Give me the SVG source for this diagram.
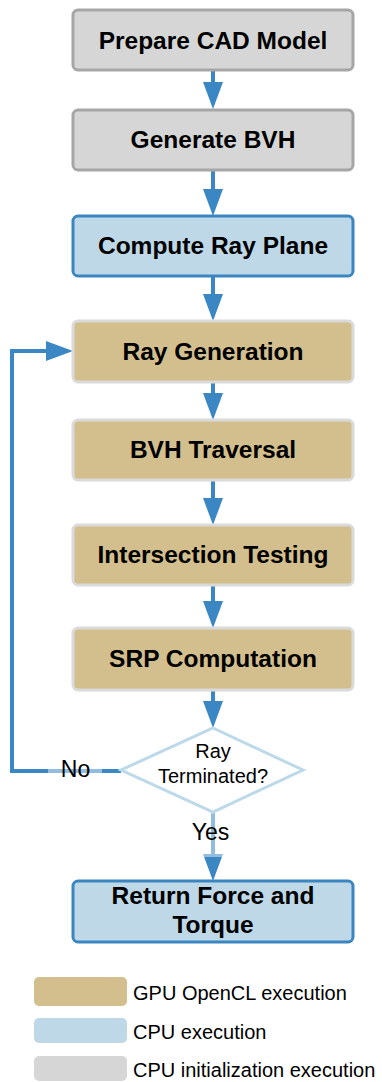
<svg xmlns="http://www.w3.org/2000/svg" width="382" height="1082" viewBox="0 0 382 1082">
<defs>
<marker id="ah" markerUnits="userSpaceOnUse" markerWidth="27" markerHeight="20" refX="0" refY="10" orient="auto" viewBox="0 0 27 20">
<path d="M0,0 L27,10 L0,20 z" fill="#3a87c3"/>
</marker>
<style>
.box{stroke-width:3}
.grey{fill:#d6d6d6;stroke:#a6a6a6}
.blue{fill:#bfd8e7;stroke:#3a86c0}
.tan{fill:#d3bf8e;stroke:#dadada}
.t{font-family:"Liberation Sans",Arial,sans-serif;font-weight:bold;font-size:24.5px;fill:#000;text-anchor:middle}
.r{font-family:"Liberation Sans",Arial,sans-serif;font-size:20px;fill:#000}
.lg{font-family:"Liberation Sans",Arial,sans-serif;font-size:20px;fill:#000}
.c{fill:none;stroke:#3a87c3;stroke-width:4}
</style>
</defs>
<g id="connectors">
<line class="c" x1="213" y1="70" x2="213" y2="82" marker-end="url(#ah)"/>
<line class="c" x1="213" y1="170" x2="213" y2="189" marker-end="url(#ah)"/>
<line class="c" x1="213" y1="276" x2="213" y2="294" marker-end="url(#ah)"/>
<line class="c" x1="213" y1="382" x2="213" y2="393" marker-end="url(#ah)"/>
<line class="c" x1="213" y1="480" x2="213" y2="498" marker-end="url(#ah)"/>
<line class="c" x1="213" y1="585" x2="213" y2="601" marker-end="url(#ah)"/>
<line class="c" x1="213" y1="690" x2="213" y2="701" marker-end="url(#ah)"/>
<line class="c" x1="213" y1="812" x2="213" y2="854" marker-end="url(#ah)"/>
<polyline class="c" points="121,771 12,771 12,351 46,351" marker-end="url(#ah)"/>
</g>
<g id="n1"><rect class="box grey" x="73" y="10" width="280" height="60" rx="5"/><text class="t" x="213" y="49">Prepare CAD Model</text></g>
<g id="n2"><rect class="box grey" x="73" y="110" width="280" height="60" rx="5"/><text class="t" x="213" y="148">Generate BVH</text></g>
<g id="n3"><rect class="box blue" x="73" y="216" width="280" height="60" rx="5"/><text class="t" x="213" y="254">Compute Ray Plane</text></g>
<g id="n4"><rect class="box tan" x="73" y="321" width="280" height="61" rx="5"/><text class="t" x="213" y="360">Ray Generation</text></g>
<g id="n5"><rect class="box tan" x="73" y="420" width="280" height="60" rx="5"/><text class="t" x="213" y="458">BVH Traversal</text></g>
<g id="n6"><rect class="box tan" x="73" y="525" width="280" height="60" rx="5"/><text class="t" x="213" y="563">Intersection Testing</text></g>
<g id="n7"><rect class="box tan" x="73" y="628" width="280" height="62" rx="5"/><text class="t" x="213" y="667">SRP Computation</text></g>
<g id="n8"><polygon points="213,728 303,770 213,812 121,770" fill="#fff" stroke="#bcd9ea" stroke-width="3"/><text class="r" x="213" y="758" text-anchor="middle">Ray</text><text class="r" x="213" y="783" text-anchor="middle">Terminated?</text></g>
<g id="n9"><rect class="box blue" x="73" y="881" width="280" height="61" rx="5"/><text class="t" x="213" y="904">Return Force and</text><text class="t" x="213" y="933">Torque</text></g>
<g id="lbl-no"><rect x="48" y="759" width="54" height="24" fill="#fff" fill-opacity="0.45"/><text class="r" x="75.5" y="777" text-anchor="middle" style="font-size:23px">No</text></g>
<g id="lbl-yes"><rect x="190" y="813" width="44" height="44" fill="#fff" fill-opacity="0.45"/><text class="r" x="210.5" y="840" text-anchor="middle" style="font-size:23px">Yes</text></g>
<g id="legend">
<rect x="34" y="977" width="93" height="29" rx="5" fill="#d3bf8e"/>
<text class="lg" x="133" y="1000">GPU OpenCL execution</text>
<rect x="34" y="1018" width="93" height="25" rx="5" fill="#bfd8e7"/>
<text class="lg" x="133" y="1039">CPU execution</text>
<rect x="34" y="1056" width="93" height="25" rx="5" fill="#d6d6d6"/>
<text class="lg" x="133" y="1077">CPU initialization execution</text>
</g>
</svg>
